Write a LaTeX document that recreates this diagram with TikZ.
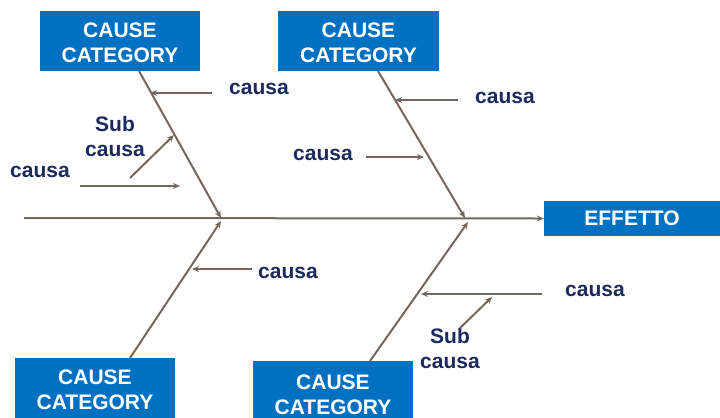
\documentclass[tikz,border=0pt]{standalone}
\usepackage{fontspec}
\setmainfont{Liberation Sans}
\usetikzlibrary{arrows.meta}
\definecolor{boxblue}{HTML}{0070C0}
\definecolor{navy}{HTML}{1B2A5E}
\definecolor{bonecol}{HTML}{75675F}
\newcommand{\cattext}{\raisebox{-4bp}[\height][\depth]{\begin{tabular}{@{}c@{}}CAUSE\\CATEGORY\end{tabular}}}
\begin{document}
\begin{tikzpicture}[x=1bp,y=-1bp,
  catbox/.style={fill=boxblue, text=white, font=\bfseries\fontsize{21bp}{25bp}\selectfont,
    align=center, inner sep=0pt, minimum width=160bp, minimum height=60bp},
  lbl/.style={text=navy, font=\bfseries\fontsize{21bp}{25bp}\selectfont, align=center, inner sep=0pt, yshift=-1.5bp},
  ln/.style={draw=bonecol, line width=2bp},
  arr/.style={ln, -{Stealth[length=7bp,width=6bp]}}]
\useasboundingbox (0,0) rectangle (720,417);

% category boxes
\node[catbox] (c1) at (120,41) {\cattext};
\node[catbox, minimum width=161bp] (c2) at (358.5,41) {\cattext};
\node[catbox] (c3) at (95,388) {\cattext};
\node[catbox, minimum height=64bp] (c4) at (333,393) {\cattext};
\node[catbox, minimum width=176bp, minimum height=35bp] (eff) at (632,218.5) {EFFETTO};

% spine
\coordinate (s0) at (24,218);
\draw[arr] (s0) -- (eff.west);

% bones
\coordinate (b1) at (139,71);   \coordinate (j1) at (221,218);
\coordinate (b2) at (378,71);   \coordinate (j2) at (465,218);
\coordinate (b3) at (130,358);  \coordinate (j3) at (221,221);
\coordinate (b4) at (370,361);  \coordinate (j4) at (468,222);
\draw[arr] (b1) -- (j1);
\draw[arr] (b2) -- (j2);
\draw[arr] (b3) -- (j3);
\draw[arr] (b4) -- (j4);

% top-left causes
\node[lbl] (l1) at (259,87) {causa};
\coordinate (a1s) at (212,93); \coordinate (a1e) at (150,93);
\draw[arr] (a1s) -- (a1e);
\node[lbl] (l2) at (40,170) {causa};
\coordinate (a2s) at (80,186); \coordinate (a2e) at (180,186);
\draw[arr] (a2s) -- (a2e);
\node[lbl] (l3) at (115,135) {Sub\\causa};
\coordinate (a3s) at (130,178); \coordinate (a3e) at (174,135);
\draw[arr] (a3s) -- (a3e);

% top-middle causes
\node[lbl] (l4) at (505,96) {causa};
\coordinate (a4s) at (458,100); \coordinate (a4e) at (395,100);
\draw[arr] (a4s) -- (a4e);
\node[lbl] (l5) at (323,153) {causa};
\coordinate (a5s) at (366,157); \coordinate (a5e) at (424,157);
\draw[arr] (a5s) -- (a5e);

% bottom-left cause
\node[lbl] (l6) at (288,271) {causa};
\coordinate (a6s) at (252,269); \coordinate (a6e) at (192,269);
\draw[arr] (a6s) -- (a6e);

% bottom-middle causes
\node[lbl] (l7) at (595,289) {causa};
\coordinate (a7s) at (542,294); \coordinate (a7e) at (421,294);
\draw[arr] (a7s) -- (a7e);
\node[lbl] (l8) at (450,347) {Sub\\causa};
\coordinate (a8s) at (460,328); \coordinate (a8e) at (492,297);
\draw[arr] (a8s) -- (a8e);
\end{tikzpicture}
\end{document}
